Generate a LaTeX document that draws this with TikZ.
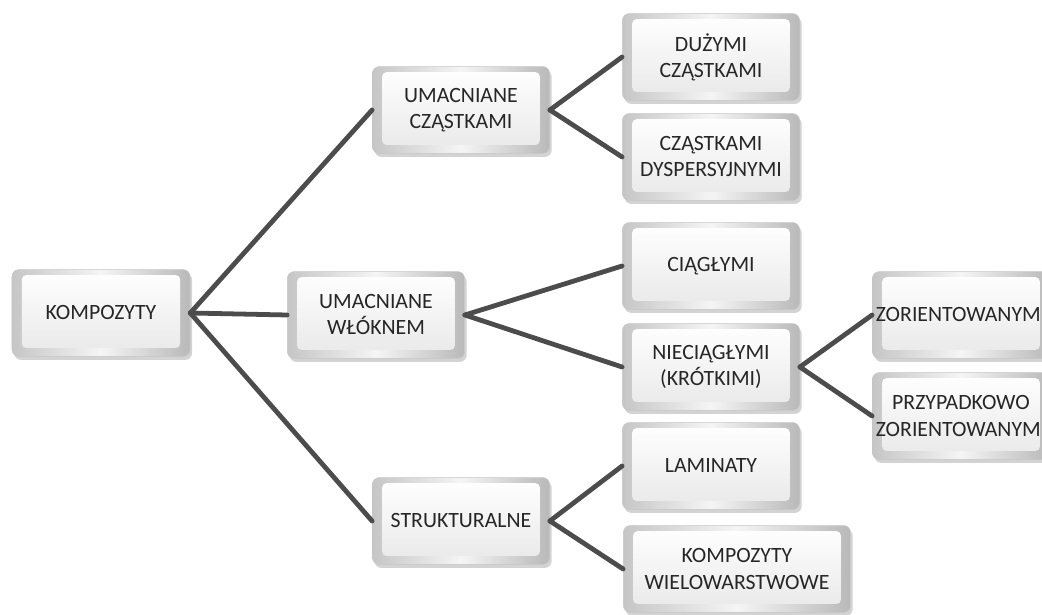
\documentclass[tikz,border=0pt]{standalone}
\usepackage{fontspec}
\setmainfont{Carlito}
\usetikzlibrary{shadows}

\begin{document}
\begin{tikzpicture}[x=.025cm,y=-.025cm,line cap=round,line join=round,
  box/.style={rounded corners=5pt,draw=gray!45,align=center,
    left color=gray!45,right color=gray!55,middle color=gray!8,
    inner sep=1pt,minimum width=4.43cm,minimum height=2.17cm,
    font=\fontsize{15.5}{18.5}\selectfont,text=black!85,
    drop shadow={shadow xshift=1.5pt,shadow yshift=-2.5pt,opacity=.35},
    path picture={\shade[rounded corners=3pt,top color=white,bottom color=gray!18]
      ([shift={(7pt,-4pt)}]path picture bounding box.north west) rectangle
      ([shift={(-7pt,6pt)}]path picture bounding box.south east);}},
  link/.style={line width=3.4pt,draw=black!70}]
  \useasboundingbox (0,0) rectangle (1042,615);
  \clip (0,0) rectangle (1042,615);
  % first level
  \node[box,minimum width=4.45cm] (kompozyty) at (101,313) {KOMPOZYTY};
  % second level
  \node[box] (czastki) at (461,110) {UMACNIANE\\CZĄSTKAMI};
  \node[box] (wlokno) at (376,315) {UMACNIANE\\WŁÓKNEM};
  \node[box] (struktur) at (461,521) {STRUKTURALNE};
  % third level
  \node[box] (duze) at (711,57) {DUŻYMI\\CZĄSTKAMI};
  \node[box] (dysp) at (711,157) {CZĄSTKAMI\\DYSPERSYJNYMI};
  \node[box] (ciagle) at (711,266) {CIĄGŁYMI};
  \node[box] (nieciagle) at (711,367) {NIECIĄGŁYMI\\(KRÓTKIMI)};
  \node[box] (laminaty) at (711,466) {LAMINATY};
  \node[box,minimum width=5.68cm] (wielowar) at (737,569) {KOMPOZYTY\\WIELOWARSTWOWE};
  % fourth level
  \node[box] (zorient) at (961,315) {ZORIENTOWANYMI};
  \node[box] (przypad) at (961,416) {PRZYPADKOWO\\ZORIENTOWANYMI};
  % links
  \draw[link] (kompozyty.east) -- (czastki.west);
  \draw[link] (kompozyty.east) -- (wlokno.west);
  \draw[link] (kompozyty.east) -- (struktur.west);
  \draw[link] (czastki.east) -- (duze.west);
  \draw[link] (czastki.east) -- (dysp.west);
  \draw[link] (wlokno.east) -- (ciagle.west);
  \draw[link] (wlokno.east) -- (nieciagle.west);
  \draw[link] (nieciagle.east) -- (zorient.west);
  \draw[link] (nieciagle.east) -- (przypad.west);
  \draw[link] (struktur.east) -- (laminaty.west);
  \draw[link] (struktur.east) -- (wielowar.west);
\end{tikzpicture}
\end{document}
